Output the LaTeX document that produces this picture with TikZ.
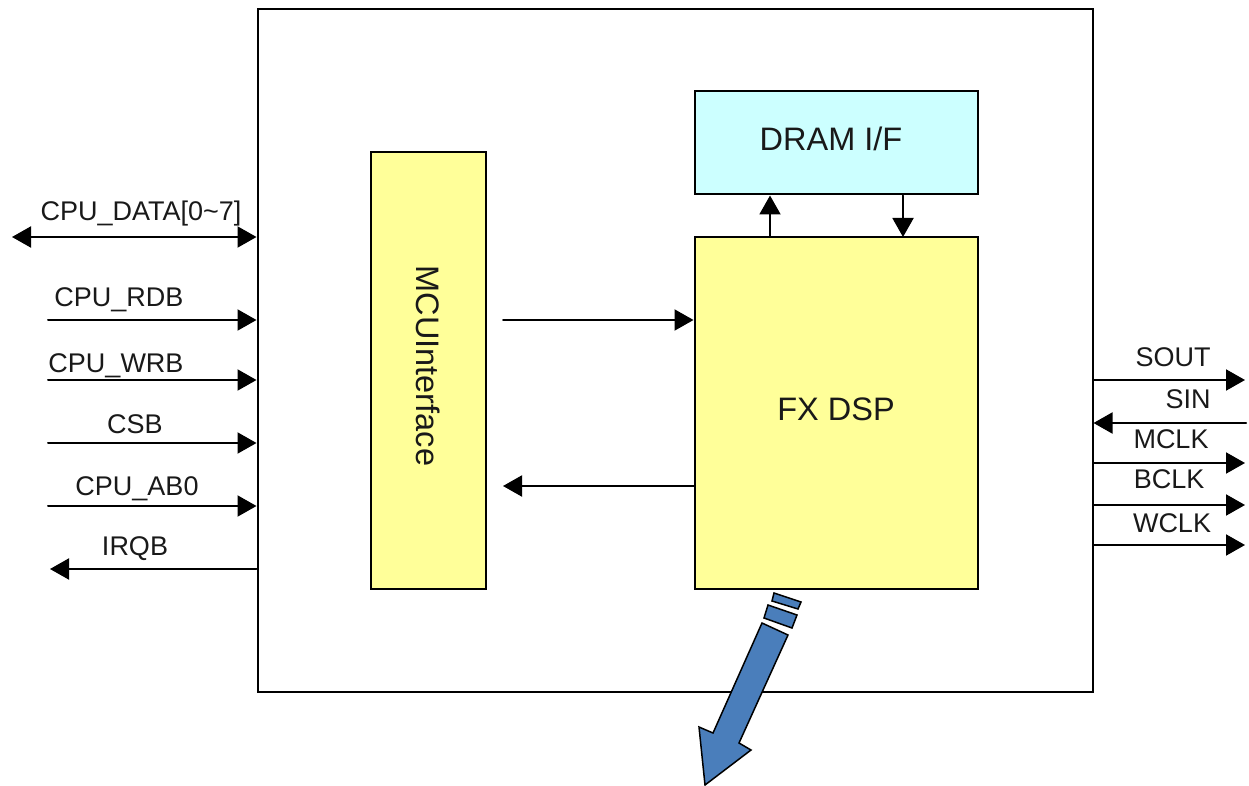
\documentclass[tikz,border=0pt]{standalone}
\usepackage{fontspec}
\setmainfont{Liberation Sans}
\usetikzlibrary{arrows.meta,calc}
\definecolor{blockyellow}{HTML}{FFFF99}
\definecolor{blockcyan}{HTML}{CCFFFF}
\definecolor{bigarrow}{HTML}{4A7EBB}
\tikzset{
    block/.style={draw,line width=2pt,minimum width=#1,inner sep=0pt,anchor=north west},
    pintext/.style={anchor=base,inner sep=0pt,font=\fontsize{27}{30}\selectfont,text=black!90},
    blocktext/.style={inner sep=0pt,font=\fontsize{32.5}{36}\selectfont,text=black!90},
    wire/.style={line width=2pt,-{Triangle[length=19pt,width=21pt]}},
    bothwire/.style={line width=2pt,{Triangle[length=19pt,width=21pt]}-{Triangle[length=19pt,width=21pt]}},
}
\begin{document}
\begin{tikzpicture}[x=1pt,y=-1pt,line cap=round]
    \useasboundingbox (0,0) rectangle (1249,786);

    %/ Blocks
    \node[block=835pt,minimum height=682pt] (chip) at (256.5,8.5) {};
    \node[block=115pt,minimum height=436pt,fill=blockyellow] (mcu) at (369.5,151.5) {};
    \node[block=283pt,minimum height=351pt,fill=blockyellow] (dsp) at (693.5,236.5) {};
    \node[block=283pt,minimum height=103pt,fill=blockcyan] (dram) at (693.5,90.5) {};

    \node[blocktext,rotate=-90] (mcutext) at (428,366) {MCUInterface};
    \node[blocktext] (dsptext) at (836,409) {FX DSP};
    \node[blocktext] (dramtext) at (831,139) {DRAM I/F};

    %/ Inside
    \coordinate (mcuout) at (503,320);
    \coordinate (mcuin) at (503,486);
    \coordinate (dspup) at (770,237);
    \coordinate (dspdown) at (903,237);
    \draw[wire] (mcuout) -- (mcuout -| dsp.west);
    \draw[wire] (mcuin -| dsp.west) -- (mcuin);
    \draw[wire] (dspup) -- (dspup |- dram.south);
    \draw[wire] (dspdown |- dram.south) -- (dspdown);

    %/ Left pins
    \coordinate (dataend) at (12,237);
    \draw[bothwire] (dataend) -- (dataend -| chip.west);
    \node[pintext] (datatext) at (141,221) {CPU\_DATA[0\textasciitilde7]};
    \foreach \name/\y/\ty/\tx/\pin in {
      rdb/320/306/119/CPU\_RDB,
      wrb/380/372/116/CPU\_WRB,
      csb/443/433/135/CSB,
      abo/506/495/137/CPU\_AB0} {
        \coordinate (\name end) at (48,\y);
        \draw[wire] (\name end) -- (\name end -| chip.west);
        \node[pintext] (\name text) at (\tx,\ty) {\pin};
    }
    \coordinate (irqend) at (50,569);
    \draw[wire] (irqend -| chip.west) -- (irqend);
    \node[pintext] (irqtext) at (135,555) {IRQB};

    %/ Right pins
    \foreach \name/\y/\ty/\tx/\pin in {
      sout/380/366/1173/SOUT,
      mclk/463/448/1171/MCLK,
      bclk/505/488/1169/BCLK,
      wclk/545/532/1172/WCLK} {
        \coordinate (\name end) at (1245,\y);
        \draw[wire] (\name end -| chip.east) -- (\name end);
        \node[pintext] (\name text) at (\tx,\ty) {\pin};
    }
    \coordinate (sinend) at (1246,423);
    \draw[wire] (sinend) -- (sinend -| chip.east);
    \node[pintext] (sintext) at (1188,408) {SIN};

    %/ Big arrow
    \draw[line width=1.5pt,line join=miter,fill=bigarrow]
      (705,785) -- (699,727) -- (713,733) -- (762,623) -- (788,635)
      -- (739,743) -- (751,750) -- cycle;
    \draw[line width=1.5pt,fill=bigarrow]
      (768,605) -- (797,615) -- (792,628) -- (764,618) -- cycle;
    \draw[line width=1.5pt,fill=bigarrow]
      (774,593) -- (801,602) -- (798,609) -- (772,601) -- cycle;
\end{tikzpicture}
\end{document}
